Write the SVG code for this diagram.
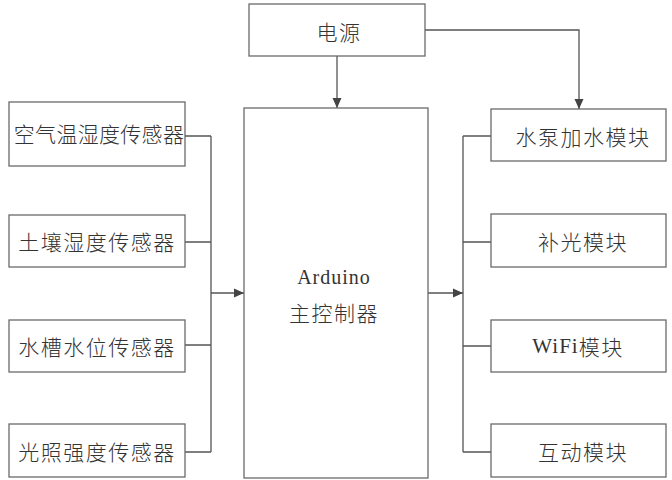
<svg xmlns="http://www.w3.org/2000/svg" width="672" height="480" viewBox="0 0 672 480">
<defs>
<marker id="arr" viewBox="0 0 10 10" refX="10" refY="5" markerWidth="10" markerHeight="10" markerUnits="userSpaceOnUse" orient="auto">
<path d="M0,0.5 L10,5 L0,9.5 Z" fill="#444"/>
</marker>
<style>
.box{fill:#fff;stroke:#6a6a6a;stroke-width:1.3}
.t{font-family:"Noto Sans CJK SC","Liberation Sans",sans-serif;font-weight:300;font-size:21px;fill:#333;text-anchor:middle;dominant-baseline:central;letter-spacing:1.5px}
text.lat, tspan.lat{font-family:"Liberation Serif",serif;font-weight:400}
.c{fill:none;stroke:#555;stroke-width:1.3}
</style>
</defs>
<rect width="672" height="480" fill="#fff"/>
<g id="connectors">
<path class="c" d="M337,56 V108" marker-end="url(#arr)"/>
<path class="c" d="M425,30 H579 V109" marker-end="url(#arr)"/>
<path class="c" d="M185,136 H211 M185,242 H211 M185,345 H211 M185,452 H211 M211,136 V452"/>
<path class="c" d="M211,293 H244" marker-end="url(#arr)"/>
<path class="c" d="M428,293 H463" marker-end="url(#arr)"/>
<path class="c" d="M463,136 V452 M463,136 H491 M463,242 H491 M463,346 H491 M463,452 H491"/>
</g>
<g id="power"><rect class="box" x="249" y="4" width="176" height="52"/><text class="t" x="339" y="31">电源</text></g>
<g id="arduino"><rect class="box" x="244" y="108" width="184" height="370"/>
<text class="t lat" x="334" y="277" style="font-family:'Liberation Serif',serif;font-weight:400;font-size:20px;letter-spacing:1px">Arduino</text>
<text class="t" x="334" y="312">主控制器</text></g>
<g id="s1"><rect class="box" x="9" y="102" width="176" height="64"/><text class="t" x="99" y="133" style="letter-spacing:0.3px">空气温湿度传感器</text></g>
<g id="s2"><rect class="box" x="9" y="215" width="176" height="52"/><text class="t" x="97" y="241">土壤湿度传感器</text></g>
<g id="s3"><rect class="box" x="9" y="320" width="176" height="52"/><text class="t" x="97" y="346">水槽水位传感器</text></g>
<g id="s4"><rect class="box" x="9" y="424" width="176" height="53"/><text class="t" x="97" y="451">光照强度传感器</text></g>
<g id="m1"><rect class="box" x="491" y="109" width="175" height="52"/><text class="t" x="583" y="136">水泵加水模块</text></g>
<g id="m2"><rect class="box" x="491" y="214" width="175" height="53"/><text class="t" x="583" y="241">补光模块</text></g>
<g id="m3"><rect class="box" x="491" y="320" width="175" height="52"/><text class="t" x="578" y="346"><tspan class="lat" style="font-family:'Liberation Serif',serif;font-weight:400;letter-spacing:1px">WiFi</tspan>模块</text></g>
<g id="m4"><rect class="box" x="491" y="424" width="175" height="53"/><text class="t" x="583" y="451">互动模块</text></g>
</svg>
